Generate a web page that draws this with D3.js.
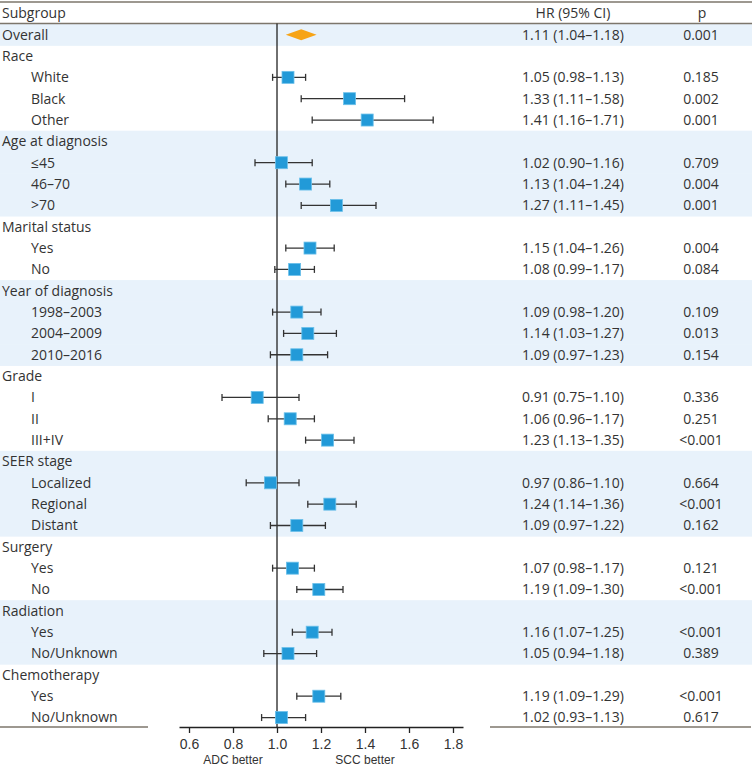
<!DOCTYPE html>
<html><head><meta charset="utf-8">
<script src="https://cdn.jsdelivr.net/npm/d3@7"></script>
<style>html,body{margin:0;padding:0;background:#fff;}svg{display:block;}</style>
</head><body>
<svg id="chart" width="752" height="766"></svg>
<script>
// ---- data ----
const labels = ["Overall","Race","White","Black","Other","Age at diagnosis","≤45","46–70",">70","Marital status","Yes","No","Year of diagnosis","1998–2003","2004–2009","2010–2016","Grade","I","II","III+IV","SEER stage","Localized","Regional","Distant","Surgery","Yes","No","Radiation","Yes","No/Unknown","Chemotherapy","Yes","No/Unknown"];
const isHeader = [0,1,0,0,0,1,0,0,0,1,0,0,1,0,0,0,1,0,0,0,1,0,0,0,1,0,0,1,0,0,1,0,0];
const shaded = [1,0,0,0,0,1,1,1,1,0,0,0,1,1,1,1,0,0,0,0,1,1,1,1,0,0,0,1,1,1,0,0,0];
const hr =    [1.11,null,1.05,1.33,1.41,null,1.02,1.13,1.27,null,1.15,1.08,null,1.09,1.14,1.09,null,0.91,1.06,1.23,null,0.97,1.24,1.09,null,1.07,1.19,null,1.16,1.05,null,1.19,1.02];
const lower = [1.04,null,0.98,1.11,1.16,null,0.90,1.04,1.11,null,1.04,0.99,null,0.98,1.03,0.97,null,0.75,0.96,1.13,null,0.86,1.14,0.97,null,0.98,1.09,null,1.07,0.94,null,1.09,0.93];
const upper = [1.18,null,1.13,1.58,1.71,null,1.16,1.24,1.45,null,1.26,1.17,null,1.20,1.27,1.23,null,1.10,1.17,1.35,null,1.10,1.36,1.22,null,1.17,1.30,null,1.25,1.18,null,1.29,1.13];
const hrText = ["1.11 (1.04–1.18)","","1.05 (0.98–1.13)","1.33 (1.11–1.58)","1.41 (1.16–1.71)","","1.02 (0.90–1.16)","1.13 (1.04–1.24)","1.27 (1.11–1.45)","","1.15 (1.04–1.26)","1.08 (0.99–1.17)","","1.09 (0.98–1.20)","1.14 (1.03–1.27)","1.09 (0.97–1.23)","","0.91 (0.75–1.10)","1.06 (0.96–1.17)","1.23 (1.13–1.35)","","0.97 (0.86–1.10)","1.24 (1.14–1.36)","1.09 (0.97–1.22)","","1.07 (0.98–1.17)","1.19 (1.09–1.30)","","1.16 (1.07–1.25)","1.05 (0.94–1.18)","","1.19 (1.09–1.29)","1.02 (0.93–1.13)"];
const pText = ["0.001","","0.185","0.002","0.001","","0.709","0.004","0.001","","0.004","0.084","","0.109","0.013","0.154","","0.336","0.251","<0.001","","0.664","<0.001","0.162","","0.121","<0.001","","<0.001","0.389","","<0.001","0.617"];
const tickValues = [0.6,0.8,1.0,1.2,1.4,1.6,1.8];
const tickLabels = ["0.6","0.8","1.0","1.2","1.4","1.6","1.8"];
const columnHeaders = ["Subgroup","HR (95% CI)","p"];
const axisNotes = ["ADC better","SCC better"];

// ---- layout ----
const W = 752;
const rowTop = 24, rowH = 21.34;
const axisY = 727;
const svg = d3.select("#chart");
const font = "'Open Sans', 'Noto Sans', sans-serif";
const textColor = "#333";
const idx = d3.range(labels.length);
const y = d3.scaleBand().domain(idx).range([rowTop, rowTop + rowH*labels.length]).paddingInner(0);
const x = d3.scaleLinear().domain([0.5545, 1.8455]).range([179, 463]);

// shading
svg.append("g").selectAll("rect").data(idx.filter(i=>shaded[i])).join("rect")
  .attr("x",0).attr("width",W).attr("y",i=>y(i)).attr("height",y.bandwidth()+0.5)
  .attr("fill","#e8f2fb");

// table lines
const lineColor = "#7d766b";
svg.append("line").attr("x1",0).attr("x2",W).attr("y1",2).attr("y2",2).attr("stroke",lineColor).attr("stroke-width",1.5);
svg.append("line").attr("x1",0).attr("x2",W).attr("y1",23.5).attr("y2",23.5).attr("stroke",lineColor).attr("stroke-width",1.5);
svg.append("line").attr("x1",0).attr("x2",148).attr("y1",axisY).attr("y2",axisY).attr("stroke",lineColor).attr("stroke-width",1.5);
svg.append("line").attr("x1",490).attr("x2",W-1).attr("y1",axisY).attr("y2",axisY).attr("stroke",lineColor).attr("stroke-width",1.5);

// headers
const fs = 14;
const hdr = svg.append("g").attr("font-family",font).attr("font-size",fs).attr("fill",textColor);
hdr.append("text").attr("x",2).attr("y",18).text(columnHeaders[0]);
hdr.append("text").attr("x",573).attr("y",18).attr("text-anchor","middle").text(columnHeaders[1]);
hdr.append("text").attr("x",702).attr("y",18).attr("text-anchor","middle").text(columnHeaders[2]);

// row labels and values
const rows = svg.append("g").attr("font-family",font).attr("font-size",fs).attr("fill",textColor);
rows.selectAll("text.lab").data(idx).join("text").attr("class","lab")
  .attr("x",i=> (isHeader[i] || i===0) ? 2 : 31)
  .attr("y",i=>y(i)+y.bandwidth()/2).attr("dy","0.35em").text(i=>labels[i]);
rows.selectAll("text.hr").data(idx).join("text").attr("class","hr")
  .attr("x",573).attr("text-anchor","middle")
  .attr("y",i=>y(i)+y.bandwidth()/2).attr("dy","0.35em").text(i=>hrText[i]);
rows.selectAll("text.p").data(idx).join("text").attr("class","p")
  .attr("x",701).attr("text-anchor","middle")
  .attr("y",i=>y(i)+y.bandwidth()/2).attr("dy","0.35em").text(i=>pText[i]);

// reference line
svg.append("line").attr("x1",x(1)).attr("x2",x(1)).attr("y1",23.5).attr("y2",axisY)
  .attr("stroke","#222").attr("stroke-width",1.3);

// CIs
const ciRows = idx.filter(i=>hr[i]!==null && i!==0);
const ci = svg.append("g").attr("stroke","#333").attr("stroke-width",1.3);
ciRows.forEach(i=>{
  const cy = y(i)+y.bandwidth()/2;
  ci.append("line").attr("x1",x(lower[i])).attr("x2",x(upper[i])).attr("y1",cy).attr("y2",cy);
  ci.append("line").attr("x1",x(lower[i])).attr("x2",x(lower[i])).attr("y1",cy-3.5).attr("y2",cy+3.5);
  ci.append("line").attr("x1",x(upper[i])).attr("x2",x(upper[i])).attr("y1",cy-3.5).attr("y2",cy+3.5);
});
const sz = 12;
svg.append("g").selectAll("rect").data(ciRows).join("rect")
  .attr("x",i=>x(hr[i])-sz/2).attr("y",i=>y(i)+y.bandwidth()/2-sz/2)
  .attr("width",sz).attr("height",sz).attr("fill","#229ad8").attr("stroke","#6cc0ea").attr("stroke-width",0.8);

// overall diamond
{
  const cy = y(0)+y.bandwidth()/2;
  const pts = [[x(lower[0]),cy],[x(hr[0]),cy-5.5],[x(upper[0]),cy],[x(hr[0]),cy+5.5]];
  svg.append("path").attr("d","M"+pts.map(p=>p.join(",")).join("L")+"Z").attr("fill","#f7a416");
}

// axis
const axis = d3.axisBottom(x).tickValues(tickValues).tickFormat((d,i)=>tickLabels[i]).tickSize(6).tickSizeOuter(0);
const ax = svg.append("g").attr("transform",`translate(0,${axisY})`).call(axis);
ax.select(".domain").attr("stroke","#222").attr("stroke-width",1.3);
ax.selectAll(".tick line").attr("stroke","#222").attr("stroke-width",1.3);
ax.selectAll(".tick text").attr("font-family","'Liberation Sans', Arial, sans-serif").attr("font-size",14).attr("fill","#333").attr("dy","0.95em");
const notes = svg.append("g").attr("font-family","'Liberation Sans', Arial, sans-serif").attr("font-size",12).attr("fill","#333").attr("text-anchor","middle");
notes.append("text").attr("x",233).attr("y",764).text(axisNotes[0]);
notes.append("text").attr("x",365).attr("y",764).text(axisNotes[1]);
</script>
</body></html>
